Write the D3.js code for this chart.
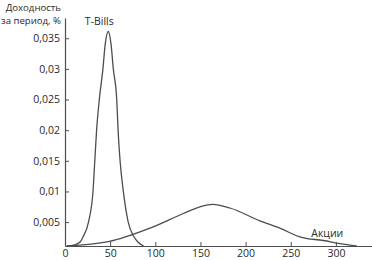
<!DOCTYPE html>
<html>
<head>
<meta charset="utf-8">
<script src="https://cdn.jsdelivr.net/npm/d3@7"></script>
<style>
  body { margin: 0; background: #fff; }
  text { font-family: "Open Sans", sans-serif; fill: #2a2a2a; }
</style>
</head>
<body>
<svg id="chart" width="372" height="260"></svg>
<script>
// T-Bills curve (return, density)
const tbillX = [2, 11, 17, 20, 26, 31, 33, 35, 38, 42, 44.5, 48, 51, 53.5, 57.3, 58.8, 61, 64.6, 70, 76.4, 81, 87];
const tbillY = [0.0011, 0.0013, 0.0018, 0.0026, 0.005, 0.01, 0.015, 0.02, 0.025, 0.03, 0.034, 0.0361,
                0.034, 0.03, 0.025, 0.02, 0.015, 0.01, 0.005, 0.0026, 0.0017, 0.0011];

// Stocks curve
const stockX = [2, 48, 94, 131, 149.5, 163.5, 182.7, 216, 238, 262, 286, 304.6, 323];
const stockY = [0.0011, 0.0018, 0.004, 0.0064, 0.0075, 0.0079, 0.0073, 0.0052, 0.004, 0.0025, 0.002, 0.0015, 0.0011];

// axis ticks
const xTicks = [0, 50, 100, 150, 200, 250, 300];
const yTicks = [0.005, 0.01, 0.015, 0.02, 0.025, 0.03, 0.035];

const svg = d3.select('#chart');

// scales (x axis sits a little above zero on the y scale)
const x = d3.scaleLinear().domain([0, 340]).range([65, 372]);
const y = d3.scaleLinear().domain([0.0011, 0.0383]).range([246, 18]);

const lineColor = '#4d4d4d';
const fmt = d => d3.format('')(d).replace('.', ',');

// x axis
const xAxis = svg.append('g')
  .attr('transform', `translate(0, ${y(0.0011)})`)
  .call(d3.axisBottom(x).tickValues(xTicks).tickSizeInner(-4).tickSizeOuter(0).tickPadding(4));

// y axis
const yAxis = svg.append('g')
  .attr('transform', `translate(${x(0)}, 0)`)
  .call(d3.axisLeft(y).tickValues(yTicks).tickFormat(fmt).tickSizeInner(-4).tickSizeOuter(0).tickPadding(5));

[xAxis, yAxis].forEach(g => {
  g.select('.domain').attr('stroke', lineColor).attr('stroke-width', 1.2);
  g.selectAll('.tick line').attr('stroke', lineColor).attr('stroke-width', 1);
  g.selectAll('.tick text')
    .style('font-family', '"Open Sans", sans-serif')
    .style('font-size', '10.5px')
    .attr('fill', '#2a2a2a');
});

// curves
const line = d3.line()
  .x(d => x(d[0]))
  .y(d => y(d[1]))
  .curve(d3.curveMonotoneX);

svg.append('path')
  .datum(tbillX.map((v, i) => [v, tbillY[i]]))
  .attr('fill', 'none')
  .attr('stroke', lineColor)
  .attr('stroke-width', 1.3)
  .attr('d', line);

svg.append('path')
  .datum(stockX.map((v, i) => [v, stockY[i]]))
  .attr('fill', 'none')
  .attr('stroke', lineColor)
  .attr('stroke-width', 1.3)
  .attr('d', line);

// labels
svg.append('text')
  .attr('x', x(38))
  .attr('y', 25)
  .attr('text-anchor', 'middle')
  .style('font-size', '10.5px')
  .text('T-Bills');

svg.append('text')
  .attr('x', x(290.5))
  .attr('y', 237)
  .attr('text-anchor', 'middle')
  .style('font-size', '10.5px')
  .text('Акции');

// y axis title
svg.append('text')
  .attr('x', 61)
  .attr('y', 10.5)
  .attr('text-anchor', 'end')
  .style('font-size', '9.6px')
  .text('Доходность');

svg.append('text')
  .attr('x', 61)
  .attr('y', 23.5)
  .attr('text-anchor', 'end')
  .style('font-size', '9.6px')
  .text('за период, %');
</script>
</body>
</html>
